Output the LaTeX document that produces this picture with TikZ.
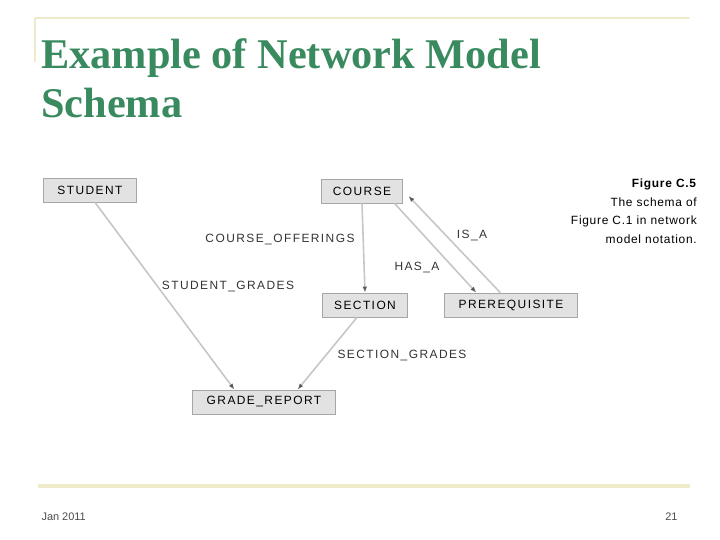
\documentclass[tikz,border=0pt]{standalone}
\usepackage{fontspec}
\setmainfont{Liberation Serif}
\setsansfont{Liberation Sans}
\usepackage{xcolor}
\usetikzlibrary{positioning,calc,arrows.meta}

\definecolor{titlegreen}{HTML}{3A8A60}
\definecolor{rulebeige}{HTML}{EEEBCB}
\definecolor{boxgray}{HTML}{E2E2E2}

\tikzset{
  rectype/.style={draw=gray!70,fill=boxgray,line width=0.8pt,minimum height=24bp,
    inner xsep=14pt,font=\sffamily\fontsize{12}{14}\selectfont\addfontfeature{LetterSpace=12}},
  settype/.style={-{Latex[length=6pt,width=4.5pt,color=black!65]},draw=gray!45,line width=1.6pt},
  setlabel/.style={font=\sffamily\fontsize{12}{14}\selectfont\addfontfeature{LetterSpace=12},text=black!80},
}

\begin{document}
\begin{tikzpicture}[x=1bp,y=-1bp]
		\useasboundingbox (0,0) rectangle (720,540);
		% slide frame
		\draw[rulebeige,line width=3pt] (35,18) -- (690,18);
		\draw[rulebeige,line width=3pt] (35,18) -- (35,62);
		\draw[rulebeige,line width=4pt] (38,486) -- (690,486);
		\node[anchor=base west,align=left,text=titlegreen,inner sep=0pt,font=\bfseries\fontsize{42.5}{50}\selectfont] (title) at (41,118) {Example of Network Model\\Schema};
		
		% record types
		\node[rectype] (student) at (90,190) {STUDENT};
		\node[rectype,inner xsep=11pt] (course) at (362,191) {COURSE};
		\node[rectype,inner xsep=12pt] (section) at (365,305) {SECTION};
		\node[rectype] (prereq) at (511,305) {PREREQUISITE};
		\node[rectype] (grade) at (264,402) {GRADE\_REPORT};
		
		% set types
		\draw[settype] ($(student.south)+(5,0)$) -- ($(grade.north west)+(42,0)$);
		\draw[settype] ($(section.south)+(-8,0)$) -- ($(grade.north east)+(-38,0)$);
		\draw[settype] (course.south) -- (section.north);
		\draw[settype] ($(course.south east)+(-8,0)$) -- ($(prereq.north west)+(32,0)$);
		\draw[settype] ($(prereq.north west)+(56,0)$) -- ($(course.east)+(6,5)$);
		
		\node[setlabel] (sg) at (228,287) {STUDENT\_GRADES};
		\node[setlabel] (co) at (280,240) {COURSE\_OFFERINGS};
		\node[setlabel] (scg) at (402,356) {SECTION\_GRADES};
		\node[setlabel] (hasa) at (417,268) {HAS\_A};
		\node[setlabel] (isa) at (472,236) {IS\_A};
		
		% caption
		\node[anchor=north east,align=right,inner sep=0pt,font=\sffamily\fontsize{12}{18.5}\selectfont\addfontfeature{LetterSpace=6}] (cap) at (697,179) {\textbf{Figure C.5}\\The schema of\\Figure C.1 in network\\model notation.};
		
		% footer
		\node[anchor=west,font=\sffamily\fontsize{11}{13}\selectfont,text=black!70] (date) at (38,517) {Jan 2011};
		\node[anchor=east,font=\sffamily\fontsize{11}{13}\selectfont,text=black!70] (page) at (681,517) {21};
	\end{tikzpicture}
\end{document}
